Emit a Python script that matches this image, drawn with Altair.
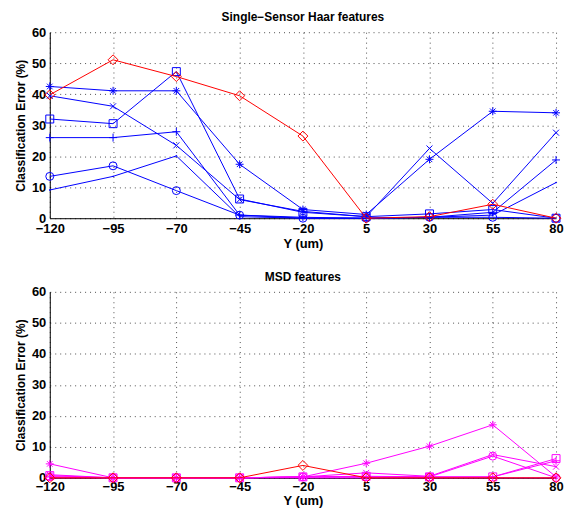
import altair as alt
import pandas as pd

x_vals = [-120, -95, -70, -45, -20, 5, 30, 55, 80]
y_ticks = [0, 10, 20, 30, 40, 50, 60]

# Single-Sensor Haar features (blue series + red diamond series)
haar_star = [42.5, 41.1, 41.1, 17.4, 2.8, 1.2, 19.0, 34.5, 34.0]
haar_x = [39.5, 36.1, 23.5, 6.0, 2.2, 0.5, 22.5, 4.8, 27.6]
haar_square = [32.0, 30.5, 47.3, 6.2, 1.9, 0.5, 1.4, 2.8, 0.0]
haar_plus = [26.0, 26.0, 27.9, 1.0, 0.3, 0.0, 0.3, 1.9, 18.8]
haar_circle = [13.5, 16.9, 8.9, 1.0, 0.0, 0.0, 0.3, 0.3, 0.0]
haar_dot = [9.1, 13.5, 20.1, 0.5, 0.0, 0.0, 0.3, 1.0, 11.5]
haar_diamond = [39.8, 51.1, 45.7, 39.5, 26.5, 0.0, 0.5, 4.5, 0.0]

# MSD features (magenta series + red diamond series)
msd_star = [4.5, 0.0, 0.0, 0.0, 0.3, 4.7, 10.2, 17.1, 0.3]
msd_x = [1.0, 0.0, 0.0, 0.0, 0.3, 1.6, 0.5, 7.5, 3.6]
msd_square = [0.7, 0.0, 0.0, 0.0, 0.3, 0.5, 0.3, 0.3, 6.2]
msd_plus = [0.3, 0.0, 0.0, 0.0, 0.3, 0.3, 0.3, 0.3, 5.5]
msd_circle = [0.3, 0.0, 0.0, 0.0, 0.3, 0.3, 0.3, 7.0, 0.0]
msd_dot = [0.0, 0.0, 0.0, 0.0, 0.0, 0.0, 0.0, 0.0, 0.0]
msd_diamond = [0.0, 0.0, 0.0, 0.0, 4.0, 0.0, 0.0, 0.0, 0.0]

series_names = ["star", "x", "square", "plus", "circle", "dot"]
shape_paths = [
    "M-1,0L1,0M0,-1L0,1M-0.7,-0.7L0.7,0.7M-0.7,0.7L0.7,-0.7",
    "M-0.75,-0.75L0.75,0.75M-0.75,0.75L0.75,-0.75",
    "square",
    "M-1,0L1,0M0,-1L0,1",
    "circle",
    "M-0.12,0A0.12,0.12 0 1,0 0.12,0A0.12,0.12 0 1,0 -0.12,0",
]

FONT = "Liberation Sans"


def long_df(series_lists):
    rows = []
    for name, vals in zip(series_names, series_lists):
        for xv, yv in zip(x_vals, vals):
            rows.append({"series": name, "x": xv, "y": yv})
    return pd.DataFrame(rows)


def panel(series_lists, diamond, color, title, height, lpad, tpad, toff):
    df = long_df(series_lists)
    ddf = pd.DataFrame({"x": x_vals, "y": diamond})
    xenc = alt.X("x:Q", scale=alt.Scale(domain=[-120, 80], nice=False, zero=False),
                 axis=alt.Axis(values=x_vals, title="Y (um)", format="d",
                               labelPadding=lpad, titlePadding=tpad))
    yenc = alt.Y("y:Q", scale=alt.Scale(domain=[0, 60], nice=False, zero=False),
                 axis=alt.Axis(values=y_ticks, title="Classification Error (%)"))
    base = alt.Chart(df).encode(x=xenc, y=yenc)
    rbase = alt.Chart(ddf).encode(x=xenc, y=yenc)
    lines = base.mark_line(color=color, strokeWidth=1).encode(detail="series:N")
    pts = base.mark_point(color=color, filled=False, strokeWidth=1, size=64, opacity=1).encode(
        shape=alt.Shape("series:N", scale=alt.Scale(domain=series_names, range=shape_paths), legend=None))
    rline = rbase.mark_line(color="#ff0000", strokeWidth=1)
    rpts = rbase.mark_point(color="#ff0000", filled=False, strokeWidth=1, size=100,
                            shape="diamond", opacity=1)
    return alt.layer(lines, pts, rline, rpts).properties(
        width=509, height=height,
        title=alt.TitleParams(title, fontSize=12, font=FONT, fontWeight="bold", offset=toff))


top = panel([haar_star, haar_x, haar_square, haar_plus, haar_circle, haar_dot],
            haar_diamond, "#0000ff", "Single\u2212Sensor Haar features", 187, 4, 2, 2)
bottom = panel([msd_star, msd_x, msd_square, msd_plus, msd_circle, msd_dot],
               msd_diamond, "#ff00ff", "MSD features", 187, 3, 1, 2)

chart = alt.vconcat(top, bottom, spacing=21).properties(
    padding={"left": 6, "top": 2, "right": 0, "bottom": 0}
).configure_view(stroke=None).configure_axis(
    labelFont=FONT, labelFontWeight="bold", labelFontSize=13, labelColor="black",
    titleFont=FONT, titleFontWeight="bold", titleFontSize=13, titleColor="black",
    domainColor="black", domainWidth=1, ticks=False, tickSize=0,
    grid=True, gridColor="black", gridDash=[1, 4], gridOpacity=0.7, gridWidth=1,
    labelFlush=False, labelOverlap=False,
).configure_axisY(labelPadding=4, titlePadding=4, titleFontSize=12)

chart.save("out.html", embed_options={"renderer": "svg", "actions": False})
